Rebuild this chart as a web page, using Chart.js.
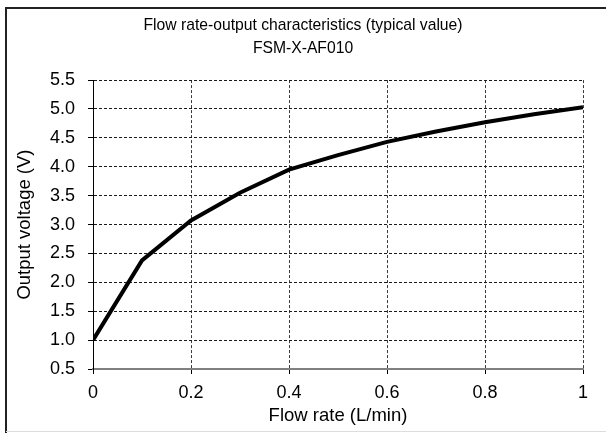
<!DOCTYPE html>
<html>
<head>
<meta charset="utf-8">
<script src="https://cdn.jsdelivr.net/npm/chart.js@4.4.1/dist/chart.umd.min.js"></script>
<style>
  html, body { margin: 0; padding: 0; background: #fff; }
  #wrap { width: 606px; height: 433px; position: relative; }
</style>
</head>
<body>
<div id="wrap"><canvas id="c" width="606" height="433"></canvas></div>
<script>
// Flow rate (L/min) and sensor output voltage (V)
const flowRate = [0, 0.1, 0.2, 0.3, 0.4, 0.5, 0.6, 0.7, 0.8, 0.9, 1.0];
const outputVoltage = [1.0, 2.38, 3.07, 3.55, 3.95, 4.2, 4.43, 4.61, 4.77, 4.91, 5.03];
const titleLines = ['Flow rate-output characteristics (typical value)', 'FSM-X-AF010'];
const xTitle = 'Flow rate (L/min)';
const yTitle = 'Output voltage (V)';

const FONT = '"Liberation Sans", Arial, sans-serif';

// outer frame of the figure
const framePlugin = {
  id: 'frame',
  afterDraw(chart) {
    const ctx = chart.ctx;
    ctx.save();
    ctx.strokeStyle = '#222';
    ctx.lineWidth = 2;
    ctx.beginPath();
    ctx.moveTo(6, 433);
    ctx.lineTo(6, 8);
    ctx.lineTo(606, 8);
    ctx.stroke();
    ctx.strokeStyle = '#ddd';
    ctx.lineWidth = 1;
    ctx.beginPath();
    ctx.moveTo(6, 431.5);
    ctx.lineTo(606, 431.5);
    ctx.stroke();
    ctx.restore();
  }
};

new Chart(document.getElementById('c'), {
  type: 'line',
  data: {
    datasets: [{
      data: flowRate.map((x, i) => ({ x, y: outputVoltage[i] })),
      borderColor: '#000',
      borderWidth: 4,
      pointRadius: 0,
      tension: 0,
      fill: false
    }]
  },
  plugins: [framePlugin],
  options: {
    responsive: false,
    animation: false,
    layout: { padding: 0 },
    plugins: {
      legend: { display: false },
      tooltip: { enabled: false },
      title: {
        display: true,
        text: titleLines,
        color: '#000',
        font: { family: FONT, size: 15.7, weight: 'normal', lineHeight: 1.42 },
        padding: { top: 15, bottom: 20.5 }
      }
    },
    scales: {
      x: {
        type: 'linear',
        min: 0,
        max: 1,
        afterFit(scale) { scale.height = 64; },
        ticks: {
          stepSize: 0.2,
          color: '#000',
          padding: 8,
          font: { family: FONT, size: 18 },
          callback: v => String(parseFloat(Number(v).toFixed(1)))
        },
        grid: {
          color: '#3a3a3a',
          lineWidth: 1,
          tickLength: 5,
          tickColor: '#000',
          tickBorderDash: []
        },
        border: { display: true, color: '#808080', width: 2, dash: [3, 2] },
        title: {
          display: true,
          text: xTitle,
          color: '#000',
          font: { family: FONT, size: 18.5 },
          padding: { top: 0, bottom: 6 }
        }
      },
      y: {
        min: 0.5,
        max: 5.5,
        afterFit(scale) { scale.width = 93; },
        ticks: {
          stepSize: 0.5,
          color: '#000',
          padding: 13,
          font: { family: FONT, size: 18 },
          callback: v => Number(v).toFixed(1)
        },
        grid: {
          color: '#1a1a1a',
          lineWidth: 1,
          tickLength: 5,
          tickColor: '#000',
          tickBorderDash: []
        },
        border: { display: true, color: '#000', width: 1, dash: [3, 2] },
        title: {
          display: true,
          text: yTitle,
          color: '#000',
          font: { family: FONT, size: 18.5 },
          padding: { top: 14, bottom: 0 }
        }
      },
      // empty right-hand margin beside the plot
      yRight: {
        position: 'right',
        display: true,
        afterFit(scale) { scale.width = 23; },
        ticks: { display: false },
        grid: { drawOnChartArea: false, drawTicks: false },
        border: { display: false }
      }
    }
  }
});
</script>
</body>
</html>
